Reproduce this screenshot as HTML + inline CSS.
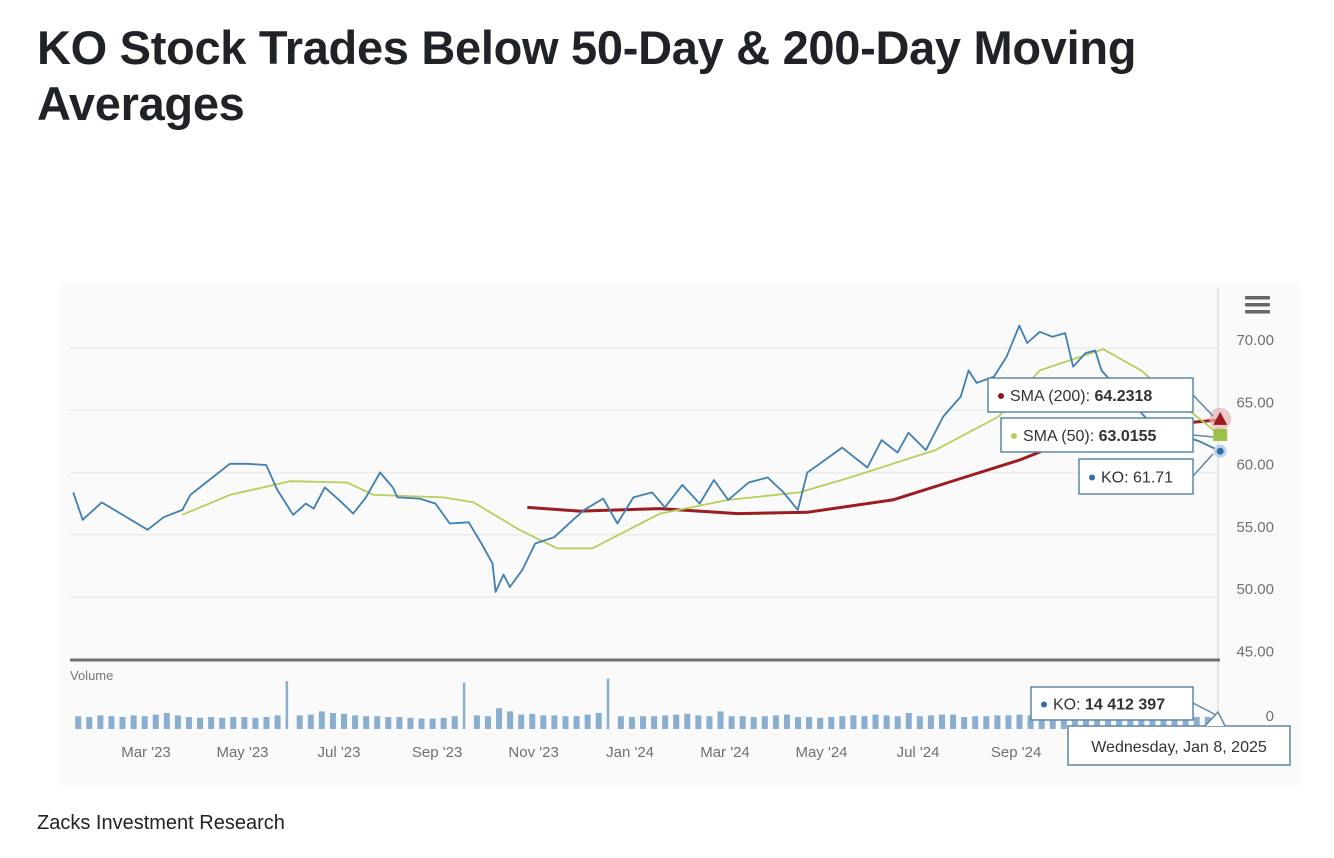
<!DOCTYPE html>
<html><head><meta charset="utf-8">
<style>
body{margin:0;background:#fff;width:1334px;height:858px;overflow:hidden;font-family:"Liberation Sans",sans-serif;}
#title{position:absolute;left:37px;top:20px;width:1200px;font-size:47px;font-weight:bold;line-height:56px;color:#1f2328;letter-spacing:-0.3px;}
#src{position:absolute;left:37px;top:812px;font-size:20px;color:#222;}
svg{position:absolute;left:0;top:0;}
</style></head><body>
<div id="title">KO Stock Trades Below 50-Day &amp; 200-Day Moving Averages</div>
<div id="src">Zacks Investment Research</div>
<svg id="chart" width="1334" height="858" font-family="Liberation Sans, sans-serif"></svg>
<script>
// days since Jan 1 2023
const priceDays=[13,19,31,43,60,70,82,87,99,112,123,135,142,152,160,165,172,181,190,198,207,215,218,232,242,251,263,271,278,280,285,289,297,305,317,329,336,348,357,367,379,387,398,409,418,427,440,452,462,471,477,486,499,507,515,524,534,541,552,563,574,579,584,595,603,611,616,624,632,640,645,653,659,663,675,694,713,725,738];
const priceVals=[58.4,56.2,57.6,56.7,55.4,56.4,57.0,58.2,59.4,60.7,60.7,60.6,58.6,56.6,57.5,57.1,58.8,57.8,56.7,58.0,60.0,58.8,58.0,57.9,57.5,55.9,56.0,54.3,52.7,50.4,51.8,50.8,52.2,54.3,54.8,56.2,57.0,57.9,55.9,58.0,58.4,57.2,59.0,57.5,59.4,57.8,59.2,59.6,58.4,57.0,60.0,60.8,62.0,61.2,60.4,62.6,61.6,63.2,61.8,64.5,66.1,68.2,67.2,67.7,69.3,71.8,70.4,71.3,70.9,71.2,68.5,69.6,69.8,68.2,66.5,64.0,63.0,62.5,61.71];
const sma50Days=[82,112,150,186,203,247,266,295,319,341,367,384,427,472,504,558,598,624,664,688,713,738];
const sma50Vals=[56.6,58.2,59.3,59.2,58.2,58.0,57.6,55.4,53.9,53.9,55.6,56.7,57.8,58.4,59.6,61.8,64.5,68.2,69.9,68.2,65.5,63.0155];
const sma200Days=[300,333,384,433,477,531,571,611,637,662,700,738];
const sma200Vals=[57.2,56.9,57.1,56.7,56.8,57.8,59.4,61.0,62.3,63.2,63.8,64.2318];
// weekly volume (millions), week i starts at day 13+7i
const volVals=[16,15,17,16,15,17,16,18,20,17,15,14,15,14,15,15,14,15,17,60,17,18,22,20,19,17,16,16,15,15,14,13,13,14,16,58,17,16,26,22,18,19,17,17,16,16,18,20,63,16,15,16,16,17,18,19,17,16,22,16,16,15,16,17,18,15,15,14,15,16,17,16,18,17,16,20,16,17,18,18,15,16,16,17,17,18,17,19,18,17,17,18,18,19,20,22,21,19,18,17,16,15,15,14.4];
const yTicks=[70,65,60,55,50,45];
const xTickDays=[59,120,181,243,304,365,425,486,547,609];
const xTickLabels=["Mar '23","May '23","Jul '23","Sep '23","Nov '23","Jan '24","Mar '24","May '24","Jul '24","Sep '24"];

const NS="http://www.w3.org/2000/svg";
const svg=document.getElementById('chart');
function X(d){return 146+(d-59)*1.582;}
function Y(p){return 348+(70-p)*12.45;}
function V(v){return 729-v*0.8;}
function mk(t,a,parent){const e=document.createElementNS(NS,t);for(const k in a)e.setAttribute(k,a[k]);(parent||svg).appendChild(e);return e;}

const bg=mk('rect',{x:60,y:285,width:1240,height:500,fill:'#fafafa'});



yTicks.forEach(t=>{
  const g=mk('line',{x1:70,x2:1218,y1:Y(t),y2:Y(t),stroke:'#ececec','stroke-width':1.5});
  
  
  const l=mk('text',{x:1274,y:Y(t)-3,'text-anchor':'end','font-size':15,fill:'#707070'});
  l.textContent=t.toFixed(2);
  
  
});
const ax=mk('line',{x1:1218,x2:1218,y1:288,y2:730,stroke:'#dcdcdc','stroke-width':1.5});


const sep=mk('line',{x1:70,x2:1220,y1:660,y2:660,stroke:'#6e6e6e','stroke-width':3});


const z=mk('text',{x:1274,y:721,'text-anchor':'end','font-size':15,fill:'#707070'});z.textContent='0';


const vl=mk('text',{x:70,y:680,'font-size':13,fill:'#777'});vl.textContent='Volume';



// menu icon
[298,305,312].forEach(y=>{const r=mk('rect',{x:1245,y:y-2,width:25,height:3.5,fill:'#666',rx:1});

});

// volume bars
volVals.forEach((v,i)=>{
  const d=13+7*i;
  const b=mk('rect',{x:X(d)+2,y:V(v),width:v>40?2.5:6,height:729-V(v),fill:'#4f86b8',opacity:0.65});
  
  
});

function line(days,vals,color,w,name){
  const p=days.map((d,i)=>(i?'L':'M')+X(d).toFixed(1)+' '+Y(vals[i]).toFixed(1)).join(' ');
  const e=mk('path',{d:p,fill:'none',stroke:color,'stroke-width':w,'stroke-linejoin':'round'});
  
  
}
line(sma200Days,sma200Vals,'#9b1d20',3,'sma200-line');
line(sma50Days,sma50Vals,'#b5cf5a',1.8,'sma50-line');
line(priceDays,priceVals,'#3f7fb3',1.8,'price-line');

// x ticks
xTickDays.forEach((d,i)=>{
  const t=mk('text',{x:X(d),y:757,'text-anchor':'middle','font-size':15,fill:'#707070'});
  t.textContent=xTickLabels[i];
  
  
});

// markers at last point
const last=738;
const halo=mk('circle',{cx:X(last),cy:Y(sma200Vals[sma200Vals.length-1])-1,r:11,fill:'#e8b4b4',opacity:0.7});


const ty=Y(sma200Vals[sma200Vals.length-1]);
const tri=mk('path',{d:`M${X(last)} ${ty-8} L${X(last)+7} ${ty+5} L${X(last)-7} ${ty+5}Z`,fill:'#9b1d20'});


const sy=Y(sma50Vals[sma50Vals.length-1]);
const sq=mk('rect',{x:X(last)-7,y:sy-6,width:14,height:12,fill:'#9cc04a'});


const py=Y(priceVals[priceVals.length-1]);
const dot=mk('circle',{cx:X(last),cy:py,r:5,fill:'#2f6ea8',stroke:'#bcd3ea','stroke-width':3});



function tip(x,y,w,h,color,label,val,bold,name){
  const g=mk('g',{});
  
  
  mk('rect',{x:x,y:y,width:w,height:h,fill:'#fff',stroke:'#5f86a8','stroke-width':1.5},g);
  mk('circle',{cx:x+13,cy:y+h/2+1,r:3,fill:color},g);
  const t=mk('text',{x:x+22,y:y+h/2+6,'font-size':16,fill:'#333'},g);
  t.textContent=label;
  const s=mk('tspan',{'font-weight':bold?'bold':'normal'},t);s.textContent=val;
}
tip(988,378,205,34,'#8b1a1a','SMA (200): ','64.2318',true,'sma200-tooltip');
tip(1001,418,192,34,'#b5cf5a','SMA (50): ','63.0155',true,'sma50-tooltip');
tip(1079,459,114,35,'#2f6ea8','KO: ','61.71',false,'price-tooltip');
[[1193,395,1213,416],[1193,435,1213,437],[1193,476,1213,454]].forEach(c=>{
  const l=mk('line',{x1:c[0],y1:c[1],x2:c[2],y2:c[3],stroke:'#5f86a8','stroke-width':1.5});
  
  
});
tip(1031,687,162,33,'#2f6ea8','KO: ','14 412 397',true,'volume-tooltip');
const vc=mk('line',{x1:1193,y1:703,x2:1218,y2:716,stroke:'#5f86a8','stroke-width':1.5});


const dg=mk('g',{});


mk('rect',{x:1068,y:726,width:222,height:39,fill:'#fff',stroke:'#5f86a8','stroke-width':1.5},dg);
const dt=mk('text',{x:1179,y:752,'text-anchor':'middle','font-size':16,fill:'#333'},dg);
dt.textContent='Wednesday, Jan 8, 2025';
mk('path',{d:'M1205 726 L1218 712 L1225 726',fill:'#fff',stroke:'#5f86a8','stroke-width':1.5},dg);
</script>
</body></html>
